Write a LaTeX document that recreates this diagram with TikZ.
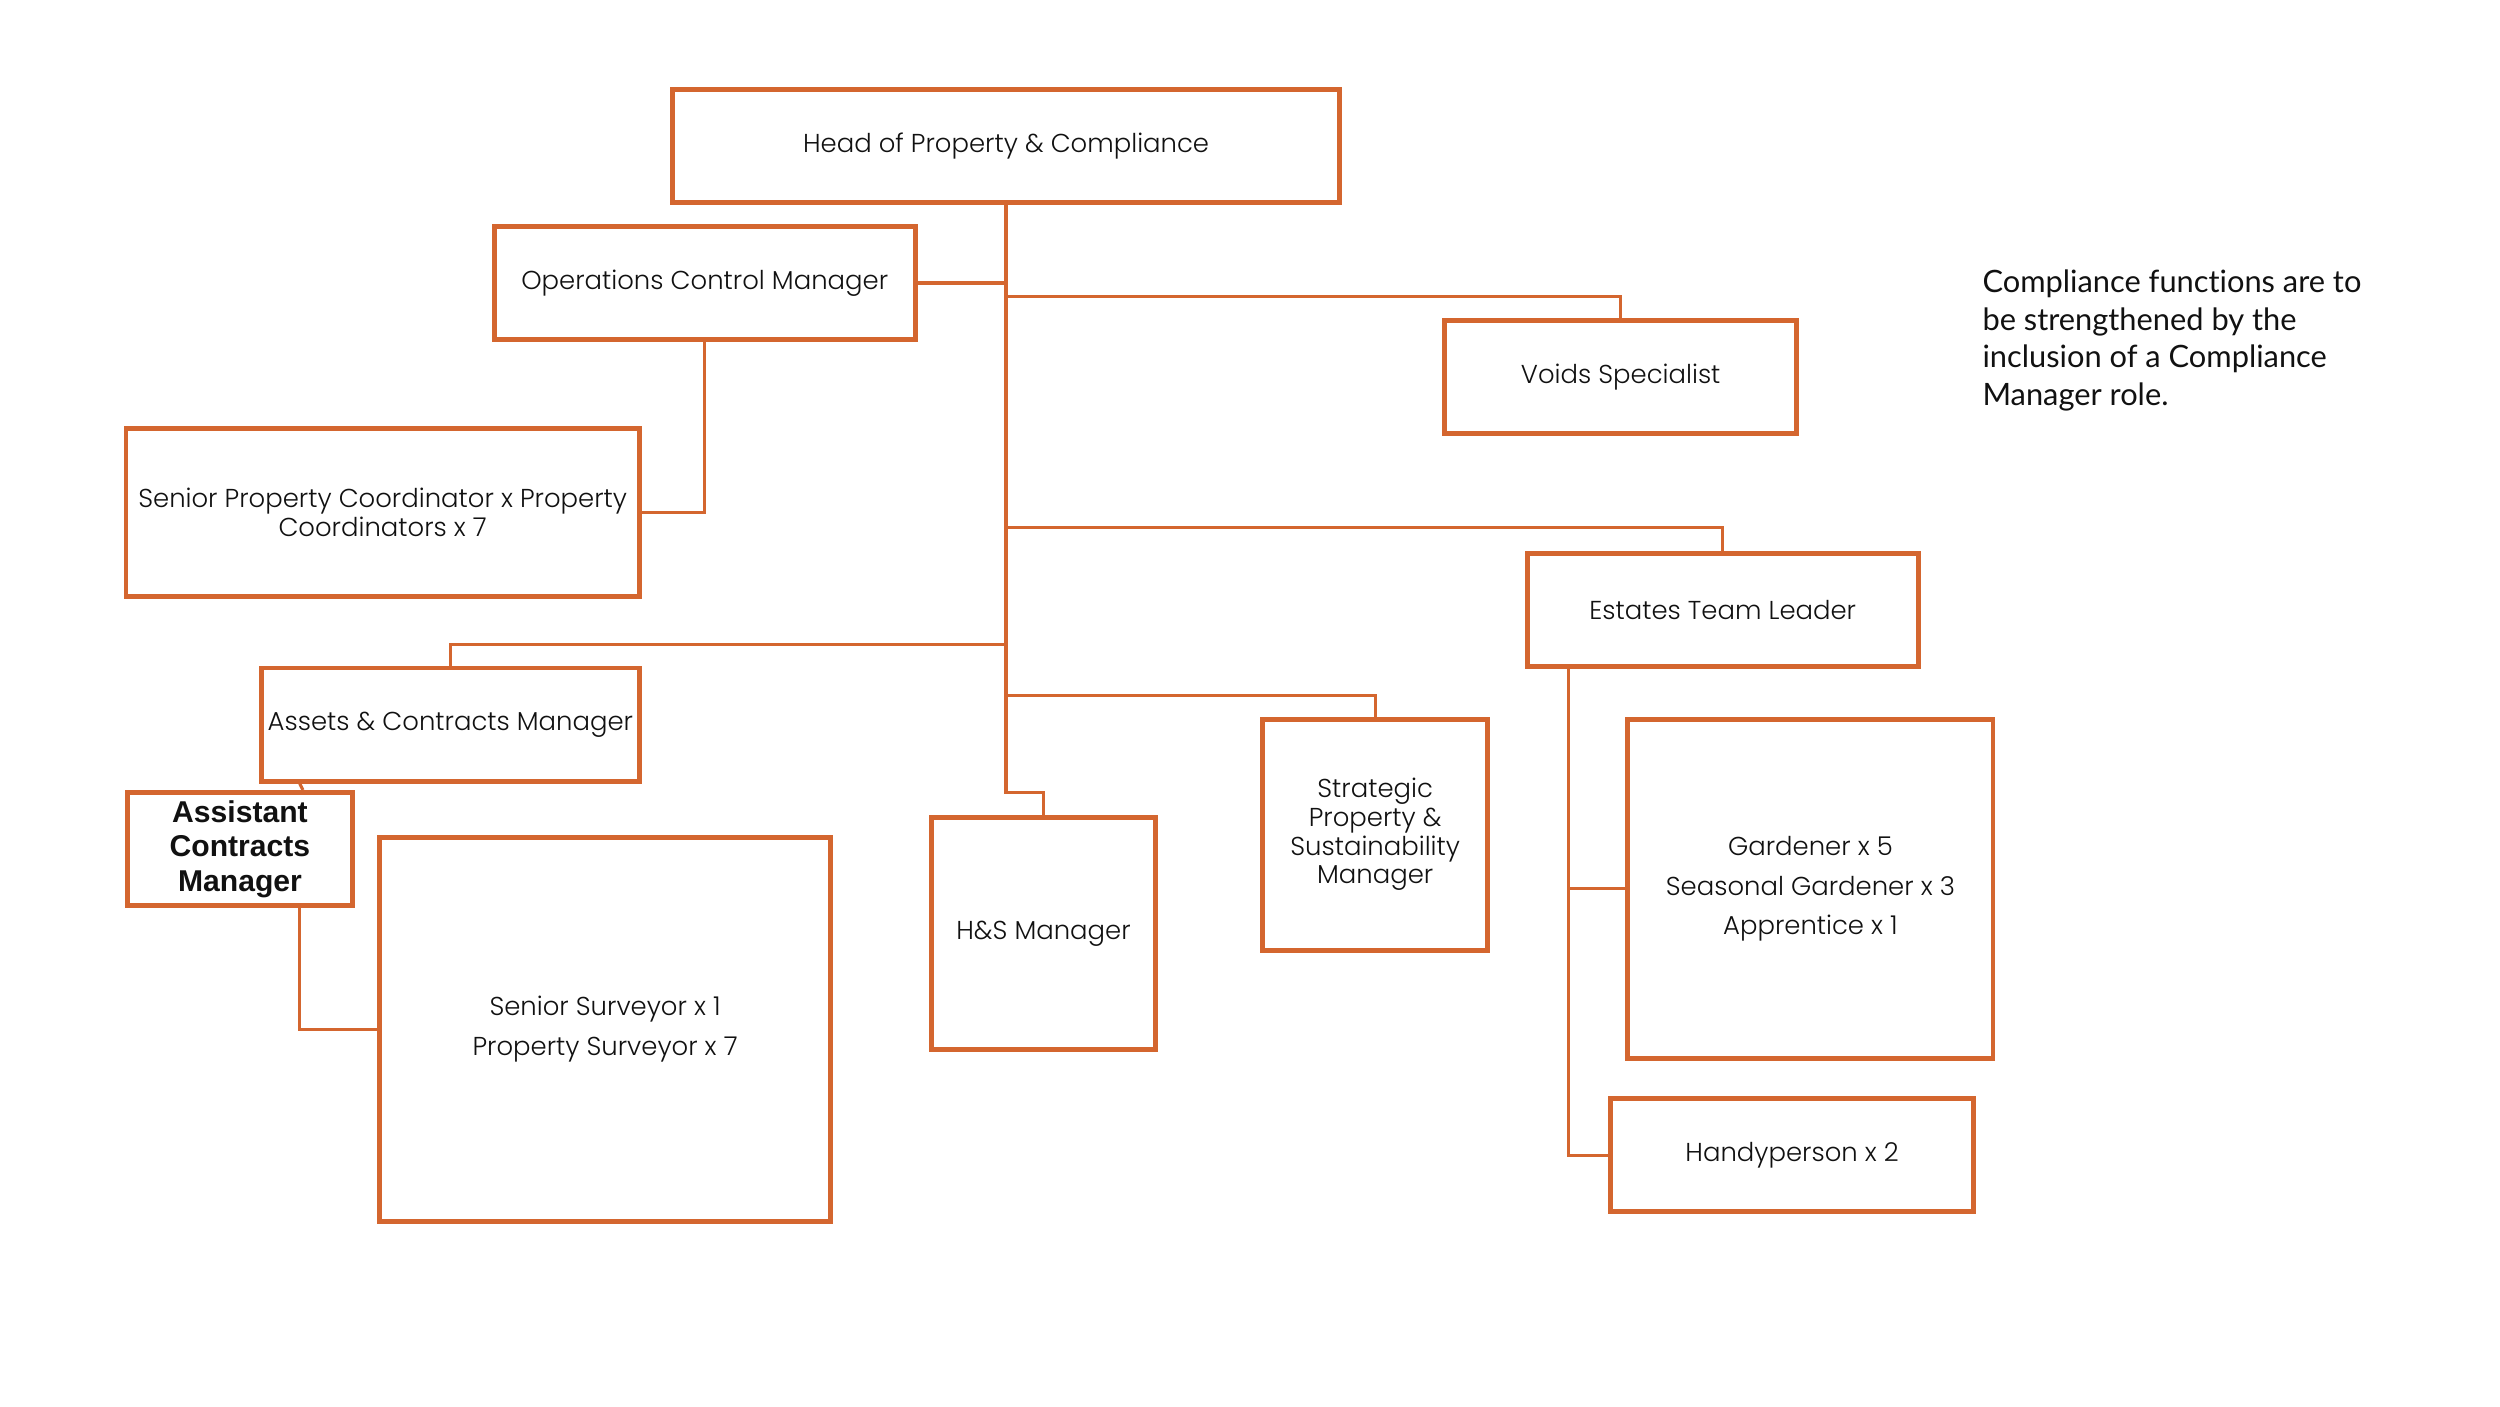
\documentclass[tikz,border=0pt]{standalone}
\usepackage{fontspec}
\setmainfont{Poppins}[UprightFont=* Light]
\newfontfamily\notefont{Lato}[Ligatures=NoCommon]
\newfontfamily\asstfont{Liberation Sans}
\usetikzlibrary{calc}
\definecolor{rust}{HTML}{D4662F}
\definecolor{ink}{HTML}{111111}
\def\pu{0.016cm}
\tikzset{
  rolebox/.style={draw=rust, line width=1.4pt, fill=white, align=center, inner sep=1pt,
    text=ink, font=\fontsize{7.4}{8.2}\selectfont},
  link/.style={draw=rust, line width=0.9pt},
  note/.style={text=ink, align=left, anchor=north west, inner sep=0pt,
    font=\notefont\fontsize{8.8}{10.7}\selectfont}
}
\begin{document}
\begin{tikzpicture}[x=\pu, y=-\pu]
  \useasboundingbox (0,0) rectangle (1568,882);

  % top of the tree
  \node[rolebox, minimum width=418*\pu, minimum height=71*\pu] (head) at (631,91.5) {Head of Property \& Compliance};
  \node[rolebox, minimum width=264*\pu, minimum height=71*\pu] (ops) at (442,177.5) {Operations Control Manager};
  \node[rolebox, minimum width=221*\pu, minimum height=71*\pu] (voids) at (1016.5,236.5) {Voids Specialist};
  \node[rolebox, minimum width=322*\pu, minimum height=105*\pu] (spc) at (240,321.5) {Senior Property Coordinator x Property\\Coordinators x 7};
  \node[rolebox, minimum width=245*\pu, minimum height=71*\pu] (estates) at (1080.5,382.5) {Estates Team Leader};
  \node[rolebox, minimum width=237*\pu, minimum height=71*\pu] (assets) at (282.5,454.5) {Assets \& Contracts Manager};

  % lower row
  \node[rolebox, minimum width=141*\pu, minimum height=71*\pu,
    font=\asstfont\bfseries\fontsize{8.6}{9.8}\selectfont] (asst) at (150.5,532.5) {Assistant\\Contracts\\Manager};
  \node[rolebox, minimum width=283*\pu, minimum height=241*\pu] (surv) at (379.5,645.5) {Senior Surveyor x 1\\[3pt]Property Surveyor x 7};
  \node[rolebox, minimum width=141*\pu, minimum height=145*\pu] (hs) at (654.5,585.5) {H\&S Manager};
  \node[rolebox, minimum width=141*\pu, minimum height=145*\pu] (strat) at (862.5,523.5) {Strategic\\Property \&\\Sustainability\\Manager};
  \node[rolebox, minimum width=229*\pu, minimum height=213*\pu] (gard) at (1135.5,557.5) {Gardener x 5\\[3pt]Seasonal Gardener x 3\\[3pt]Apprentice x 1};
  \node[rolebox, minimum width=228*\pu, minimum height=71*\pu] (handy) at (1124,724.5) {Handyperson x 2};

  % connectors
  \draw[link] (head.south) -- (head.south |- 0,497) -| (hs.north);
  \draw[link] (ops.east) -- (ops.east -| head.south);
  \draw[link] (head.south |- 0,186) -| (voids.north);
  \draw[link] (ops.south) |- (spc.east);
  \draw[link] (head.south |- 0,331) -| (estates.north);
  \draw[link] (head.south |- 0,404) -| (assets.north);
  \draw[link] (head.south |- 0,436) -| (strat.north);
  \draw[link] (assets.south -| 188,0) -- (asst.north -| 190,0);
  \draw[link] (asst.south -| 188,0) |- (surv.west);
  \draw[link] (estates.south -| 984,0) |- (handy.west);
  \draw[link] (gard.west -| 984,0) -- (gard.west);

  \node[note] (remark) at (1243,169) {Compliance functions are to\\be strengthened by the\\inclusion of a Compliance\\Manager role.};
\end{tikzpicture}
\end{document}
